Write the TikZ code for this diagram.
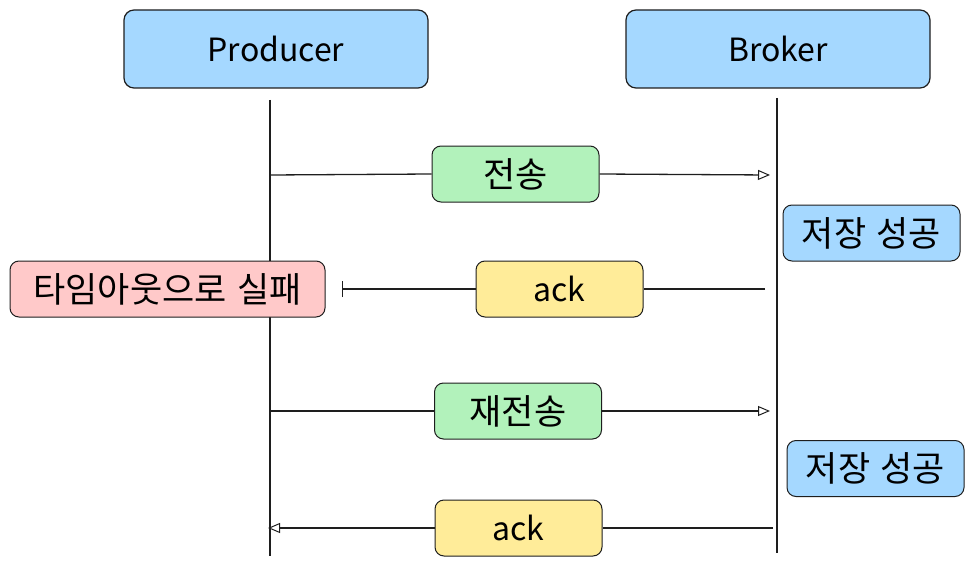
\documentclass[tikz,border=0pt]{standalone}
\usepackage{fontspec}
\setmainfont{Noto Sans CJK KR}
\usetikzlibrary{arrows.meta}
\definecolor{ink}{HTML}{1E1E1E}
\definecolor{boxblue}{HTML}{A5D8FF}
\definecolor{boxgreen}{HTML}{B2F2BB}
\definecolor{boxred}{HTML}{FFC9C9}
\definecolor{boxyellow}{HTML}{FFEC99}
\tikzset{
  actor/.style={draw=ink, fill=boxblue, rounded corners=10pt, line width=1.2pt,
    minimum width=304pt, minimum height=78pt, inner sep=0pt,
    font=\fontsize{32}{36}\selectfont},
  msgbox/.style={draw=ink, rounded corners=9pt, line width=1pt,
    minimum width=167pt, minimum height=56pt, inner sep=0pt,
    font=\fontsize{35}{40}\selectfont},
  notebox/.style={draw=ink, fill=boxblue, rounded corners=9pt, line width=1pt,
    minimum width=177pt, minimum height=56pt, inner sep=0pt,
    font=\fontsize{35}{40}\selectfont},
  latinlabel/.style={font=\fontsize{32}{36}\selectfont},
  lifeline/.style={draw=ink, line width=1.4pt},
  msgline/.style={draw=ink, line width=1.3pt},
  opentip/.style={-{Triangle[open, length=12pt, width=10pt, line width=1pt]}},
}
\begin{document}
\begin{tikzpicture}[x=1pt, y=-1pt]
		%%%%% frame %%%%%
		\useasboundingbox (0, 0) rectangle (974, 567);
		
		%%%%% actors %%%%%
		\node[actor] (producer) at (276, 49) {Producer};
		\node[actor] (broker) at (778, 49) {Broker};
		
		\coordinate (p-top) at (270, 100);
		\coordinate (p-bot) at (270, 556);
		\coordinate (b-top) at (777, 98);
		\coordinate (b-bot) at (777, 553);
		\draw[lifeline] (p-top) -- (p-bot);
		\draw[lifeline] (b-top) -- (b-bot);
		
		%%%%% send %%%%%
		\coordinate (send-from) at (270, 175);
		\coordinate (send-to) at (770, 175);
		\node[msgbox, fill=boxgreen] (send) at (515.5, 174) {전송};
		\draw[msgline] (send-from) -- (send.west);
		\draw[msgline, opentip] (send.east) -- (send-to);
		
		\node[notebox] (stored1) at (871.5, 233) {저장\hspace{0.3em}성공};
		
		%%%%% ack lost %%%%%
		\node[msgbox, fill=boxred, minimum width=315pt] (timeout) at (167.5, 289) {타임아웃으로\hspace{0.3em}실패};
		\coordinate (ack1-from) at (765, 289);
		\coordinate (ack1-to) at (342, 289);
		\node[msgbox, fill=boxyellow, latinlabel] (ack1) at (559.5, 289) {ack};
		\draw[msgline] (ack1-from) -- (ack1.east);
		\draw[msgline, -{Bar[width=16pt, line width=1pt]}] (ack1.west) -- (ack1-to);
		
		%%%%% resend %%%%%
		\coordinate (resend-from) at (270, 411);
		\coordinate (resend-to) at (770, 411);
		\node[msgbox, fill=boxgreen] (resend) at (518, 411) {재전송};
		\draw[msgline] (resend-from) -- (resend.west);
		\draw[msgline, opentip] (resend.east) -- (resend-to);
		
		\node[notebox] (stored2) at (875.5, 468.5) {저장\hspace{0.3em}성공};
		
		%%%%% ack %%%%%
		\coordinate (ack2-from) at (773, 528);
		\coordinate (ack2-to) at (268, 528);
		\node[msgbox, fill=boxyellow, latinlabel] (ack2) at (518.5, 528) {ack};
		\draw[msgline] (ack2-from) -- (ack2.east);
		\draw[msgline, opentip] (ack2.west) -- (ack2-to);
		
		%%%%% END %%%%%
\end{tikzpicture}
\end{document}
